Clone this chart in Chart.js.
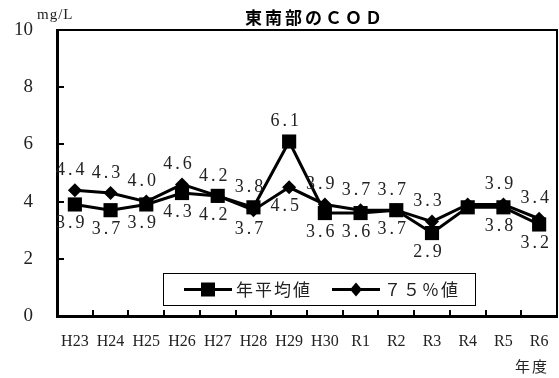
<!DOCTYPE html>
<html>
<head>
<meta charset="utf-8">
<script src="https://cdn.jsdelivr.net/npm/chart.js@4/dist/chart.umd.min.js"></script>
<style>
html, body { margin: 0; padding: 0; background: #fff; }
</style>
</head>
<body>
<canvas id="cod_chart" width="559" height="378"></canvas>
<script>
// 東南部のCOD (mg/L)
const years = ['H23', 'H24', 'H25', 'H26', 'H27', 'H28', 'H29', 'H30', 'R1', 'R2', 'R3', 'R4', 'R5', 'R6'];
const annualMean = [3.9, 3.7, 3.9, 4.3, 4.2, 3.8, 6.1, 3.6, 3.6, 3.7, 2.9, 3.8, 3.8, 3.2];
const pct75 = [4.4, 4.3, 4.0, 4.6, 4.2, 3.7, 4.5, 3.9, 3.7, 3.7, 3.3, 3.9, 3.9, 3.4];
const yTicks = [0, 2, 4, 6, 8, 10];
const unlabelledYears = ['R4'];

const serif = "'Liberation Serif', 'Noto Sans CJK JP', serif";
const gothic = "'Noto Sans CJK JP', sans-serif";

const decor = {
   id: 'decor',
   beforeDraw(chart) {
      const ctx = chart.ctx;
      ctx.save();
      ctx.fillStyle = '#fff';
      ctx.fillRect(0, 0, chart.width, chart.height);
      ctx.restore();
   },
   beforeDatasetsDraw(chart) {
      const ctx = chart.ctx, a = chart.chartArea;
      const x = chart.scales.x, y = chart.scales.y;
      ctx.save();
      ctx.strokeStyle = '#000';
      // top and right frame
      ctx.lineWidth = 2;
      ctx.beginPath();
      ctx.moveTo(a.left, a.top);
      ctx.lineTo(a.right, a.top);
      ctx.lineTo(a.right, a.bottom);
      ctx.stroke();
      // inward ticks
      ctx.beginPath();
      yTicks.slice(1, -1).forEach(v => {
         const py = Math.round(y.getPixelForValue(v));
         ctx.moveTo(a.left, py);
         ctx.lineTo(a.left + 7, py);
      });
      for (let i = 1; i < years.length; i++) {
         const px = Math.round((x.getPixelForValue(i - 1) + x.getPixelForValue(i)) / 2);
         ctx.moveTo(px, a.bottom);
         ctx.lineTo(px, a.bottom - 6);
      }
      ctx.stroke();
      ctx.restore();
   },
   afterDatasetsDraw(chart) {
      const ctx = chart.ctx;
      const x = chart.scales.x, y = chart.scales.y;
      ctx.save();
      ctx.font = '18px ' + serif;
      ctx.letterSpacing = '3px';
      ctx.fillStyle = '#222';
      ctx.textAlign = 'center';
      ctx.textBaseline = 'middle';
      years.forEach((yr, i) => {
         if (unlabelledYears.includes(yr)) return;
         const m = annualMean[i], p = pct75[i];
         const px = x.getPixelForValue(i) - 3;
         const meanUp = m > p;
         ctx.fillText(m.toFixed(1), px, y.getPixelForValue(m) + (meanUp ? -20 : 19));
         ctx.fillText(p.toFixed(1), px, y.getPixelForValue(p) + (meanUp ? 19 : -20));
      });
      ctx.restore();
   },
   afterDraw(chart) {
      const ctx = chart.ctx, a = chart.chartArea;
      ctx.save();
      // title
      ctx.fillStyle = '#000';
      ctx.font = 'bold 17px ' + gothic;
      ctx.letterSpacing = '3px';
      ctx.textAlign = 'center';
      ctx.textBaseline = 'middle';
      ctx.fillText('東南部のＣＯＤ', 315, 18);
      // unit labels
      ctx.letterSpacing = '1px';
      ctx.fillStyle = '#222';
      ctx.font = '15px ' + serif;
      ctx.textAlign = 'left';
      ctx.fillText('mg/L', 37, 15);
      ctx.font = '15px ' + gothic;
      ctx.letterSpacing = '2px';
      ctx.fillText('年度', 515, 366);
      // legend box
      const bx = a.left + 106, by = a.bottom - 43, bw = 312, bh = 32;
      ctx.strokeStyle = '#000';
      ctx.lineWidth = 1;
      ctx.strokeRect(bx + 0.5, by + 0.5, bw, bh);
      const ly = by + bh / 2 + 0.5;
      const items = [
         { x: bx + 21, style: 'rect', label: chart.data.datasets[0].label },
         { x: bx + 169, style: 'rectRot', label: chart.data.datasets[1].label }
      ];
      ctx.font = '17px ' + gothic;
      ctx.letterSpacing = '2px';
      items.forEach(it => {
         ctx.lineWidth = 3;
         ctx.beginPath();
         ctx.moveTo(it.x, ly);
         ctx.lineTo(it.x + 48, ly);
         ctx.stroke();
         ctx.fillStyle = '#000';
         const cx = it.x + 24;
         ctx.beginPath();
         if (it.style === 'rect') {
            ctx.rect(cx - 7, ly - 7, 14, 14);
         } else {
            ctx.moveTo(cx, ly - 7);
            ctx.lineTo(cx + 6, ly);
            ctx.lineTo(cx, ly + 7);
            ctx.lineTo(cx - 6, ly);
            ctx.closePath();
         }
         ctx.fill();
         ctx.fillStyle = '#222';
         ctx.fillText(it.label, it.x + 52, ly);
      });
      ctx.restore();
   }
};

new Chart(document.getElementById('cod_chart').getContext('2d'), {
   type: 'line',
   data: {
      labels: years,
      datasets: [
         {
            label: '年平均値',
            data: annualMean,
            borderColor: '#000',
            backgroundColor: '#000',
            borderWidth: 3,
            pointStyle: 'rect',
            pointRadius: 10,
            pointBorderWidth: 0,
            tension: 0
         },
         {
            label: '７５％値',
            data: pct75,
            borderColor: '#000',
            backgroundColor: '#000',
            borderWidth: 3,
            pointStyle: 'rectRot',
            pointRadius: 7,
            pointBorderWidth: 0,
            tension: 0
         }]
   },
   options: {
      responsive: false,
      animation: false,
      devicePixelRatio: 1,
      layout: { autoPadding: false, padding: { top: 30, right: 2, left: 0, bottom: 0 } },
      plugins: {
         legend: { display: false },
         title: { display: false },
         tooltip: { enabled: false }
      },
      scales: {
         x: {
            type: 'category',
            offset: true,
            grid: { display: false, drawTicks: false },
            border: { display: true, color: '#000', width: 3 },
            ticks: { color: '#222', padding: 16, maxRotation: 0, autoSkip: false, font: { family: serif, size: 16 } },
            afterFit(s) { s.height = 62; s.paddingLeft = 0; s.paddingRight = 0; }
         },
         y: {
            min: 0,
            max: 10,
            afterBuildTicks(s) { s.ticks = yTicks.map(v => ({ value: v })); },
            grid: { display: false, drawTicks: false },
            border: { display: true, color: '#000', width: 3 },
            ticks: { color: '#222', padding: 24, font: { family: serif, size: 19 } },
            afterFit(s) { s.width = 57; s.paddingTop = 0; s.paddingBottom = 0; }
         }
      }
   },
   plugins: [decor]
});
</script>
</body>
</html>
